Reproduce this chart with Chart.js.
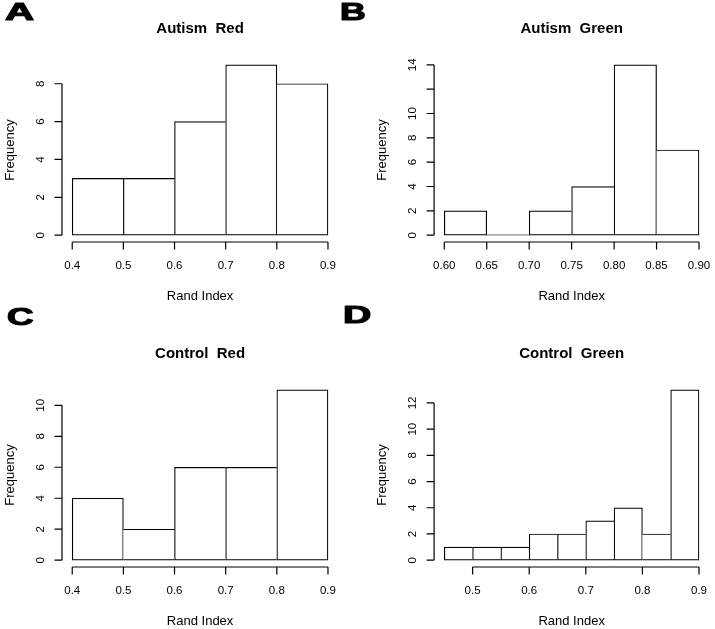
<!DOCTYPE html>
<html>
<head>
<meta charset="utf-8">
<script src="https://cdn.jsdelivr.net/npm/chart.js@4/dist/chart.umd.min.js"></script>
<style>
  html, body { margin: 0; padding: 0; background: #ffffff; }
  #wrap { position: relative; width: 715px; height: 629px; overflow: hidden; }
  #wrap canvas { position: absolute; left: 0; top: 0; }
</style>
</head>
<body>
<div id="wrap">
  <canvas id="cA" width="715" height="629"></canvas>
  <canvas id="cB" width="715" height="629"></canvas>
  <canvas id="cC" width="715" height="629"></canvas>
  <canvas id="cD" width="715" height="629"></canvas>
</div>
<script>
// ---------------- data ----------------
const breaksAutismRed    = [0.4, 0.5, 0.6, 0.7, 0.8, 0.9];
const countsAutismRed    = [3, 3, 6, 9, 8];
const xTicksAutismRed    = [0.4, 0.5, 0.6, 0.7, 0.8, 0.9];
const xLabelsAutismRed   = ['0.4', '0.5', '0.6', '0.7', '0.8', '0.9'];
const yTicksAutismRed    = [0, 2, 4, 6, 8];
const yLabelsAutismRed   = ['0', '2', '4', '6', '8'];

const breaksAutismGreen  = [0.60, 0.65, 0.70, 0.75, 0.80, 0.85, 0.90];
const countsAutismGreen  = [2, 0, 2, 4, 14, 7];
const xTicksAutismGreen  = [0.60, 0.65, 0.70, 0.75, 0.80, 0.85, 0.90];
const xLabelsAutismGreen = ['0.60', '0.65', '0.70', '0.75', '0.80', '0.85', '0.90'];
const yTicksAutismGreen  = [0, 2, 4, 6, 8, 10, 12, 14];
const yLabelsAutismGreen = ['0', '2', '4', '6', '8', '10', '', '14'];

const breaksControlRed   = [0.4, 0.5, 0.6, 0.7, 0.8, 0.9];
const countsControlRed   = [4, 2, 6, 6, 11];
const xTicksControlRed   = [0.4, 0.5, 0.6, 0.7, 0.8, 0.9];
const xLabelsControlRed  = ['0.4', '0.5', '0.6', '0.7', '0.8', '0.9'];
const yTicksControlRed   = [0, 2, 4, 6, 8, 10];
const yLabelsControlRed  = ['0', '2', '4', '6', '8', '10'];

const breaksControlGreen = [0.45, 0.50, 0.55, 0.60, 0.65, 0.70, 0.75, 0.80, 0.85, 0.90];
const countsControlGreen = [1, 1, 1, 2, 2, 3, 4, 2, 13];
const xTicksControlGreen = [0.5, 0.6, 0.7, 0.8, 0.9];
const xLabelsControlGreen= ['0.5', '0.6', '0.7', '0.8', '0.9'];
const yTicksControlGreen = [0, 2, 4, 6, 8, 10, 12];
const yLabelsControlGreen= ['0', '2', '4', '6', '8', '10', '12'];

const titles = ['Autism  Red', 'Autism  Green', 'Control  Red', 'Control  Green'];
const panelLetters = ['A', 'B', 'C', 'D'];
const xAxisTitle = 'Rand Index';
const yAxisTitle = 'Frequency';

// ---------------- style ----------------
const INK = '#000000';
const LW = 1.2;
const TICK = 7.5;
const FONT = '"Liberation Sans", Arial, Helvetica, sans-serif';
const W = 715, H = 629;

const rAxesPlugin = {
  id: 'rAxes',
  afterDatasetsDraw(chart, args, o) {
    const ctx = chart.ctx, xs = chart.scales.x, ys = chart.scales.y, a = chart.chartArea;
    ctx.save();
    ctx.strokeStyle = INK; ctx.fillStyle = INK; ctx.lineWidth = LW; ctx.lineCap = 'butt';
    // x axis
    const xt = o.xTicks;
    ctx.beginPath();
    ctx.moveTo(xs.getPixelForValue(xt[0]), a.bottom);
    ctx.lineTo(xs.getPixelForValue(xt[xt.length - 1]), a.bottom);
    xt.forEach(v => { const p = xs.getPixelForValue(v); ctx.moveTo(p, a.bottom); ctx.lineTo(p, a.bottom + TICK); });
    // y axis
    const yt = o.yTicks;
    ctx.moveTo(a.left, ys.getPixelForValue(yt[0]));
    ctx.lineTo(a.left, ys.getPixelForValue(yt[yt.length - 1]));
    yt.forEach(v => { const p = ys.getPixelForValue(v); ctx.moveTo(a.left, p); ctx.lineTo(a.left - TICK, p); });
    ctx.stroke();

    // x tick labels
    ctx.font = '11.5px ' + FONT;
    ctx.textAlign = 'center'; ctx.textBaseline = 'alphabetic';
    xt.forEach((v, i) => ctx.fillText(o.xLabels[i], xs.getPixelForValue(v), a.bottom + 27));
    // y tick labels (rotated)
    yt.forEach((v, i) => {
      if (!o.yLabels[i]) return;
      ctx.save();
      ctx.translate(a.left - 18, ys.getPixelForValue(v));
      ctx.rotate(-Math.PI / 2);
      ctx.fillText(o.yLabels[i], 0, 0);
      ctx.restore();
    });
    // axis titles
    ctx.font = '13px ' + FONT;
    ctx.fillText(xAxisTitle, (a.left + a.right) / 2, a.bottom + 58);
    ctx.save();
    ctx.translate(a.left - 48.5, (a.top + a.bottom) / 2);
    ctx.rotate(-Math.PI / 2);
    ctx.fillText(yAxisTitle, 0, 0);
    ctx.restore();
    // main title
    ctx.font = 'bold 15px ' + FONT;
    ctx.fillText(o.title, (a.left + a.right) / 2, a.top - 25);
    // panel letter
    ctx.save();
    ctx.translate(o.letterX, o.letterY);
    ctx.scale(o.letterSX, 1);
    ctx.font = 'bold 23px ' + FONT;
    ctx.textAlign = 'left';
    ctx.lineWidth = 1.1; ctx.lineJoin = 'round';
    ctx.fillText(o.letter, 0, 0);
    ctx.strokeText(o.letter, 0, 0);
    ctx.restore();
    ctx.restore();
  }
};

function borderWidths(counts) {
  return counts.map((c, i) => ({
    top: LW,
    bottom: LW,
    left: (i === 0 || c >= counts[i - 1]) ? LW : 0,
    right: (i === counts.length - 1 || c > counts[i + 1]) ? LW : 0
  }));
}

function makePanel(id, idx, breaks, counts, xTicks, xLabels, yTicks, yLabels, area, letterPos) {
  const xr = breaks[breaks.length - 1] - breaks[0];
  const ymax = Math.max(...counts);
  const data = counts.map((c, i) => ({ x: (breaks[i] + breaks[i + 1]) / 2, y: c }));
  new Chart(document.getElementById(id), {
    type: 'bar',
    data: {
      datasets: [{
        data: data,
        backgroundColor: '#ffffff',
        borderColor: INK,
        borderWidth: borderWidths(counts),
        borderSkipped: false,
        minBarLength: LW,
        barPercentage: 1,
        categoryPercentage: 1
      }]
    },
    options: {
      responsive: false,
      animation: false,
      events: [],
      layout: { padding: { left: area.left, right: W - area.right, top: area.top, bottom: H - area.bottom } },
      scales: {
        x: {
          type: 'linear', display: false, offset: false,
          min: breaks[0] - 0.04 * xr, max: breaks[breaks.length - 1] + 0.04 * xr,
          afterBuildTicks: s => { s.ticks = breaks.map(v => ({ value: v })); }
        },
        y: {
          type: 'linear', display: false,
          min: -0.04 * ymax, max: ymax * 1.04
        }
      },
      plugins: {
        legend: { display: false },
        tooltip: { enabled: false },
        rAxes: {
          xTicks, xLabels, yTicks, yLabels,
          title: titles[idx], letter: panelLetters[idx],
          letterX: letterPos[0], letterY: letterPos[1], letterSX: letterPos[2]
        }
      }
    },
    plugins: [rAxesPlugin]
  });
}

makePanel('cA', 0, breaksAutismRed, countsAutismRed, xTicksAutismRed, xLabelsAutismRed, yTicksAutismRed, yLabelsAutismRed,
  { left: 62, right: 338.2, top: 58, bottom: 242 }, [5, 20, 1.75]);
makePanel('cB', 1, breaksAutismGreen, countsAutismGreen, xTicksAutismGreen, xLabelsAutismGreen, yTicksAutismGreen, yLabelsAutismGreen,
  { left: 434.1, right: 709.2, top: 58, bottom: 242 }, [340, 20, 1.55]);
makePanel('cC', 2, breaksControlRed, countsControlRed, xTicksControlRed, xLabelsControlRed, yTicksControlRed, yLabelsControlRed,
  { left: 62, right: 338.2, top: 383, bottom: 567 }, [7, 325, 1.6]);
makePanel('cD', 3, breaksControlGreen, countsControlGreen, xTicksControlGreen, xLabelsControlGreen, yTicksControlGreen, yLabelsControlGreen,
  { left: 434.1, right: 709.2, top: 383, bottom: 567 }, [343, 323, 1.7]);
</script>
</body>
</html>
